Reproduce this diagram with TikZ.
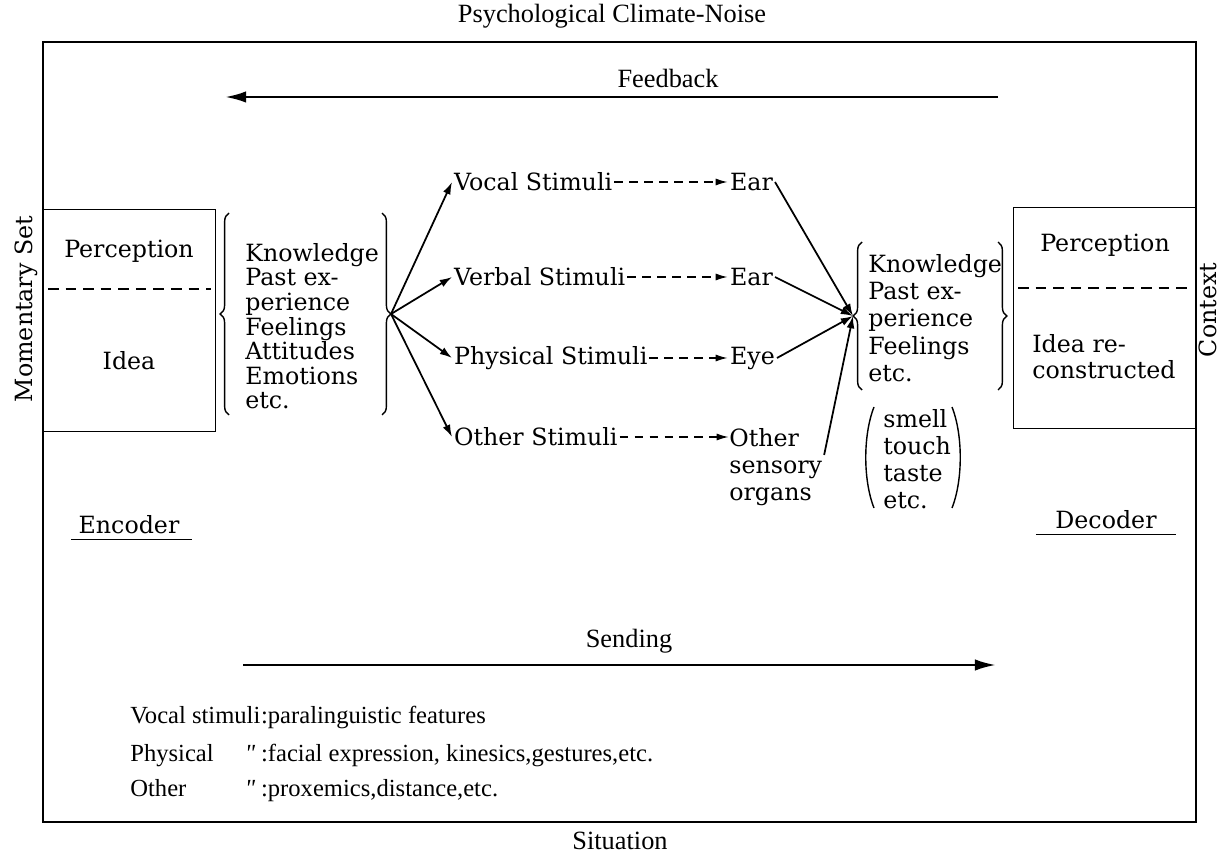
\documentclass[tikz,border=0pt]{standalone}
\usepackage{fontspec}
\setmainfont{DejaVu Serif}
\newfontfamily\narrowfont{Liberation Serif}
\usetikzlibrary{positioning, arrows.meta, decorations.pathreplacing}

\begin{document}
\begin{tikzpicture}[x=0.02cm, y=-0.02cm, >=Latex,
	lbl/.style={font=\fontsize{13.5}{16}\selectfont, inner sep=1pt},
	lst/.style={font=\fontsize{13.5}{#1}\selectfont, align=left, inner sep=0pt, anchor=north west},
	nrw/.style={font=\narrowfont\fontsize{15}{17}\selectfont, inner sep=1pt},
	legend/.style={font=\narrowfont\fontsize{14}{16}\selectfont, inner sep=0pt, anchor=base west},
	outline/.style={line width=0.8pt},
	divider/.style={dash pattern=on 6pt off 4pt, line width=0.9pt},
	fanarrow/.style={-{Latex[length=7pt, width=4.5pt]}, line width=1pt},
	dasharrow/.style={-{Latex[length=7pt, width=4pt]}, dash pattern=on 5pt off 3.5pt, line width=1pt},
	flowarrow/.style={-{Latex[length=12pt, width=6.5pt]}, line width=1.5pt},
	bracket/.style={decorate, decoration={brace, amplitude=5pt}, line width=0.8pt}]
	
	\useasboundingbox (0,0) rectangle (1223,854);
	
	% Outer frame and its labels
	\draw[outline] (43,42) rectangle (1196,822);
	\node[nrw] (title) at (612,16) {Psychological Climate-Noise};
	\node[nrw] (situation) at (620,841) {Situation};
	\node[lbl, rotate=90] (mset) at (26,309) {Momentary Set};
	\node[lbl, rotate=90, inner sep=0pt] (context) at (1208,310) {Context};
	
	% Encoder side
	\node[draw, outline, minimum width=3.44cm, minimum height=4.44cm, anchor=north west] (encbox) at (43,209) {};
	\node[lbl] (encperc) at (129,251) {Perception};
	\draw[divider] (48,289) -- (211,289);
	\node[lbl] (encidea) at (129,361) {Idea};
	\node[lst=14pt] (enclist) at (245,243) {Knowledge\\Past ex-\\perience\\Feelings\\Attitudes\\Emotions\\etc.};
	\draw[bracket] (229,415) -- (229,213);
	\draw[bracket] (382,213) -- (382,415);
	\coordinate (ltip) at (391,314);
	
	% Stimuli and receiving organs
	\node[lbl, anchor=west] (vocal) at (452,182) {Vocal Stimuli};
	\node[lbl, anchor=west] (verbal) at (452,277) {Verbal Stimuli};
	\node[lbl, anchor=west] (physical) at (452,358) {Physical Stimuli};
	\node[lbl, anchor=west] (other) at (452,437) {Other Stimuli};
	\node[lbl, anchor=west] (ear1) at (728,182) {Ear};
	\node[lbl, anchor=west] (ear2) at (728,277) {Ear};
	\node[lbl, anchor=west] (eye) at (728,358) {Eye};
	\node[lst=15.5pt] (organs) at (729,428) {Other\\sensory\\organs};
	
	\foreach \s in {vocal, verbal, physical, other}
		\draw[fanarrow] (ltip) -- (\s.west);
	
	\draw[dasharrow] (vocal) -- (ear1);
	\draw[dasharrow] (verbal) -- (ear2);
	\draw[dasharrow] (physical) -- (eye);
	\draw[dasharrow] (other.east) -- (other.east -| organs.west);
	
	% Decoder side
	\coordinate (rtip) at (853,316);
	\draw[fanarrow] (ear1.east) -- (rtip);
	\draw[fanarrow] (ear2.east) -- (rtip);
	\draw[fanarrow] (eye.east) -- (rtip);
	\draw[fanarrow] ([xshift=1pt, yshift=7pt]organs.east) -- (rtip);
	
	\draw[bracket] (862,390) -- (862,242);
	\node[lst=15.5pt] (declist) at (868,254) {Knowledge\\Past ex-\\perience\\Feelings\\etc.};
	\draw[bracket] (998,242) -- (998,390);
	
	\node[lst=15.3pt] (senses) at (883,409) {smell\\touch\\taste\\etc.};
	\draw[outline] (874,407) .. controls (863,435) and (863,480) .. (874,508);
	\draw[outline] (952,407) .. controls (963,435) and (963,480) .. (952,508);
	
	\node[draw, outline, minimum width=3.66cm, minimum height=4.42cm, anchor=north west] (decbox) at (1013,207) {};
	\node[lbl] (decperc) at (1105,245) {Perception};
	\draw[divider] (1018,288) -- (1192,288);
	\node[lst=14.7pt] (decidea) at (1032,334) {Idea re-\\constructed};
	
	% Encoder / Decoder captions
	\node[lbl, inner sep=3pt] (enc) at (129,525) {Encoder};
	\draw[thin] ([xshift=-1pt]enc.south west) -- ([xshift=4pt]enc.south east);
	\node[lbl, inner sep=3pt] (dec) at (1106,520) {Decoder};
	\draw[thin] ([xshift=-8pt]dec.south west) -- ([xshift=8pt]dec.south east);
	
	% Feedback and sending
	\node[nrw] (feedback) at (668,78) {Feedback};
	\coordinate (fbfrom) at (998,97);
	\coordinate (fbto) at (225,97);
	\draw[flowarrow] (fbfrom) -- (fbto);
	\node[nrw] (sending) at (629,641) {Sending};
	\coordinate (sdfrom) at (243,665);
	\coordinate (sdto) at (996,665);
	\draw[flowarrow] (sdfrom) -- (sdto);
	
	% Legend
	\node[legend] (lvocal) at (130,723) {Vocal stimuli};
	\node[legend] (lvocaltxt) at (lvocal.base east) {:paralinguistic features};
	\node[legend] (lphys) at (130,761) {Physical};
	\node[legend, anchor=base] (lphysditto) at (250,761) {\itshape "};
	\node[legend] (lphystxt) at (lvocaltxt.base west |- 0,761) {:facial expression, kinesics,gestures,etc.};
	\node[legend] (lother) at (130,796) {Other};
	\node[legend, anchor=base] (lotherditto) at (250,796) {\itshape "};
	\node[legend] (lothertxt) at (lvocaltxt.base west |- 0,796) {:proxemics,distance,etc.};
\end{tikzpicture}
\end{document}
